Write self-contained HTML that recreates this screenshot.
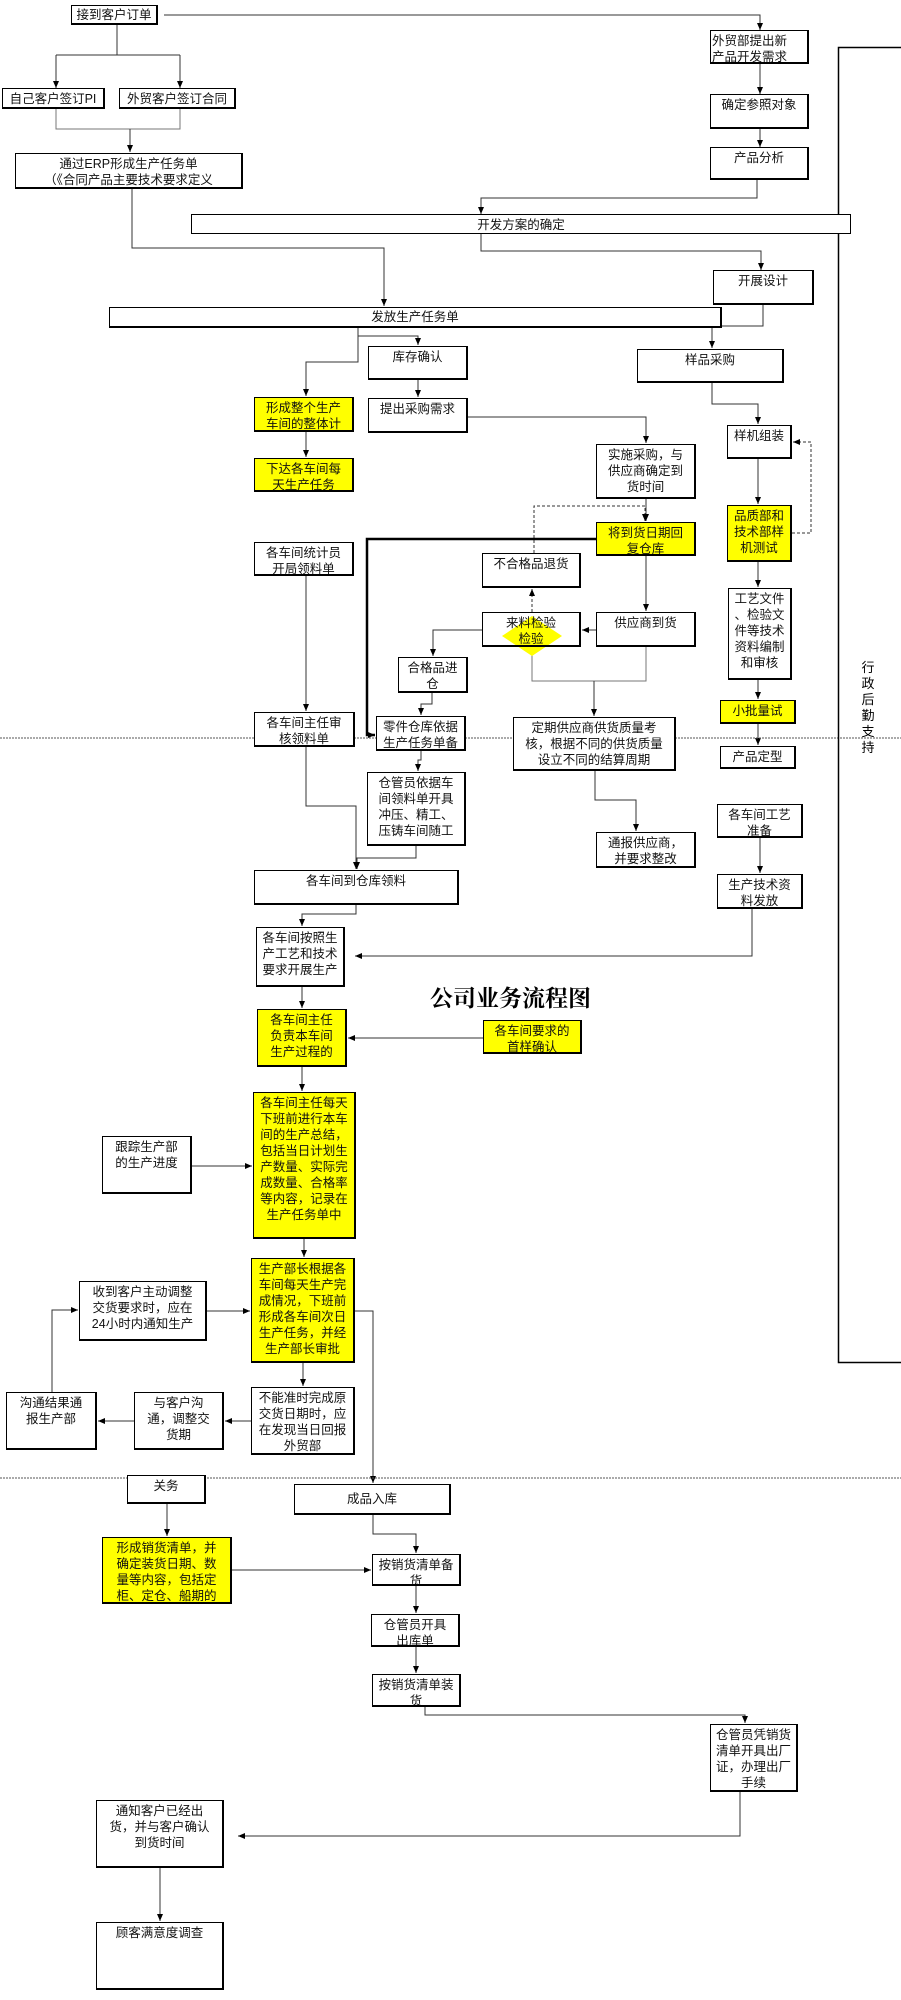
<!DOCTYPE html>
<html><head><meta charset="utf-8"><style>
body{margin:0;width:901px;height:2000px;position:relative;background:#fff;overflow:hidden;font-family:"Liberation Sans","Noto Sans CJK SC",sans-serif;}
.b{position:absolute;box-sizing:border-box;border:1px solid #000;border-right-width:2px;border-bottom-width:2px;background:#fff;font-size:12.5px;line-height:16px;text-align:center;padding:2px 1px 0;overflow:hidden;color:#111;}
.y{background:#ffff00;}
svg{position:absolute;left:0;top:0;}
.t{position:absolute;font-family:"Liberation Serif","Noto Serif CJK SC",serif;font-weight:bold;font-size:23px;}
</style></head><body>
<svg width="901" height="2000">
<defs><marker id="a" markerWidth="8" markerHeight="8" refX="7" refY="4" orient="auto" markerUnits="userSpaceOnUse"><path d="M0,1 L7,4 L0,7z" fill="#000"/></marker></defs>
<g stroke="#333" stroke-width="1" fill="none">
<polyline points="164,15 760,15 760,30" marker-end="url(#a)"/>
<polyline points="117,24 117,55"/>
<polyline points="56,55 180,55"/>
<line x1="56" y1="55" x2="56" y2="88" marker-end="url(#a)"/>
<line x1="180" y1="55" x2="180" y2="88" marker-end="url(#a)"/>
<polyline points="56,108 56,129 180,129 180,108" stroke="#777"/>
<line x1="130" y1="129" x2="130" y2="152" marker-end="url(#a)"/>
<polyline points="132,189 132,248 384,248 384,306" marker-end="url(#a)"/>
<line x1="760" y1="64" x2="760" y2="94" marker-end="url(#a)"/>
<line x1="760" y1="129" x2="760" y2="147" marker-end="url(#a)"/>
<polyline points="757,180 757,198 481,198 481,214" marker-end="url(#a)"/>
<polyline points="481,234 481,251 761,251 761,270" marker-end="url(#a)"/>
<polyline points="763,305 763,326 712,326 712,348" marker-end="url(#a)"/>
<polyline points="358,328 358,336 418,336 418,345" marker-end="url(#a)"/>
<polyline points="358,336 358,362 306,362 306,396" marker-end="url(#a)"/>
<line x1="418" y1="380" x2="418" y2="397" marker-end="url(#a)"/>
<polyline points="468,417 646,417 646,443" marker-end="url(#a)"/>
<polyline points="712,383 712,404 758,404 758,424" marker-end="url(#a)"/>
<line x1="306" y1="432" x2="306" y2="457" marker-end="url(#a)"/>
<line x1="758" y1="459" x2="758" y2="504" marker-end="url(#a)"/>
<polyline points="792,533 811,533 811,442 793,442" stroke-dasharray="3,2" marker-end="url(#a)"/>
<line x1="646" y1="499" x2="646" y2="521" marker-end="url(#a)"/>
<polyline points="534,553 534,506 645,506 645,521" stroke-dasharray="3,2" marker-end="url(#a)"/>
<line x1="532" y1="612" x2="532" y2="589" stroke-dasharray="3,2" marker-end="url(#a)"/>
<polyline points="596,539 367,539 367,735 375,735" stroke-width="2.5" stroke="#000" marker-end="url(#a)"/>
<line x1="306" y1="576" x2="306" y2="711" marker-end="url(#a)"/>
<line x1="646" y1="556" x2="646" y2="611" marker-end="url(#a)"/>
<line x1="596" y1="630" x2="582" y2="630" marker-end="url(#a)"/>
<polyline points="482,630 433,630 433,656" marker-end="url(#a)"/>
<polyline points="432,693 432,704 421,704 421,715" marker-end="url(#a)"/>
<polyline points="532,647 532,681 646,681 646,647" stroke="#777"/>
<line x1="594" y1="681" x2="594" y2="716" marker-end="url(#a)"/>
<polyline points="595,771 595,800 636,800 636,831" marker-end="url(#a)"/>
<line x1="758" y1="562" x2="758" y2="587" marker-end="url(#a)"/>
<line x1="758" y1="680" x2="758" y2="699" marker-end="url(#a)"/>
<line x1="758" y1="724" x2="758" y2="745" marker-end="url(#a)"/>
<polyline points="306,747 306,806 356,806 356,869" marker-end="url(#a)"/>
<polyline points="421,751 421,760 418,760 418,771" marker-end="url(#a)"/>
<polyline points="416,846 416,858 357,858 357,869" marker-end="url(#a)"/>
<line x1="760" y1="838" x2="760" y2="873" marker-end="url(#a)"/>
<polyline points="752,909 752,956 355,956" marker-end="url(#a)"/>
<polyline points="356,905 356,914 302,914 302,926" marker-end="url(#a)"/>
<line x1="302" y1="987" x2="302" y2="1008" marker-end="url(#a)"/>
<line x1="483" y1="1038" x2="348" y2="1038" marker-end="url(#a)"/>
<line x1="302" y1="1067" x2="302" y2="1091" marker-end="url(#a)"/>
<line x1="192" y1="1166" x2="252" y2="1166" marker-end="url(#a)"/>
<line x1="304" y1="1239" x2="304" y2="1257" marker-end="url(#a)"/>
<line x1="207" y1="1311" x2="250" y2="1311" marker-end="url(#a)"/>
<polyline points="355,1311 373,1311 373,1483" marker-end="url(#a)"/>
<line x1="303" y1="1363" x2="303" y2="1386" marker-end="url(#a)"/>
<line x1="251" y1="1421" x2="225" y2="1421" marker-end="url(#a)"/>
<line x1="134" y1="1421" x2="98" y2="1421" marker-end="url(#a)"/>
<polyline points="52,1392 52,1310 78,1310" marker-end="url(#a)"/>
<line x1="167" y1="1504" x2="167" y2="1536" marker-end="url(#a)"/>
<polyline points="373,1515 373,1534 416,1534 416,1553" marker-end="url(#a)"/>
<line x1="232" y1="1570" x2="371" y2="1570" marker-end="url(#a)"/>
<line x1="416" y1="1586" x2="416" y2="1613" marker-end="url(#a)"/>
<line x1="416" y1="1647" x2="416" y2="1673" marker-end="url(#a)"/>
<polyline points="425,1707 425,1715 745,1715 745,1723" marker-end="url(#a)"/>
<polyline points="740,1792 740,1836 238,1836" marker-end="url(#a)"/>
<line x1="160" y1="1868" x2="160" y2="1921" marker-end="url(#a)"/>
</g>
<g stroke="#555" stroke-width="1" stroke-dasharray="2,1">
<line x1="0" y1="738" x2="901" y2="738"/>
<line x1="0" y1="1478" x2="901" y2="1478"/>
</g>
<rect x="838.5" y="47.5" width="70" height="1315" fill="none" stroke="#000" stroke-width="1.5"/>
<polygon points="532,616 562,636 532,656 502,636" fill="#ffff00"/>
</svg>
<div class="b" style="left:71px;top:5px;width:87px;height:20px;padding-top:1px;">接到客户订单</div>
<div class="b" style="left:2px;top:88px;width:103px;height:21px;">自己客户签订PI</div>
<div class="b" style="left:119px;top:88px;width:117px;height:21px;">外贸客户签订合同</div>
<div class="b" style="left:15px;top:153px;width:228px;height:36px;">通过ERP形成生产任务单<br>（《合同产品主要技术要求定义</div>
<div class="b" style="left:710px;top:30px;width:99px;height:34px;text-align:left;">外贸部提出新<br>产品开发需求</div>
<div class="b" style="left:710px;top:94px;width:99px;height:35px;">确定参照对象</div>
<div class="b" style="left:710px;top:147px;width:99px;height:33px;">产品分析</div>
<div class="b" style="left:191px;top:214px;width:660px;height:20px;border-width:1px;">开发方案的确定</div>
<div class="b" style="left:713px;top:270px;width:101px;height:35px;">开展设计</div>
<div class="b" style="left:109px;top:307px;width:613px;height:21px;padding-top:1px;">发放生产任务单</div>
<div class="b" style="left:368px;top:346px;width:100px;height:34px;">库存确认</div>
<div class="b" style="left:637px;top:349px;width:147px;height:34px;">样品采购</div>
<div class="b y" style="left:254px;top:397px;width:100px;height:35px;">形成整个生产<br>车间的整体计</div>
<div class="b" style="left:368px;top:398px;width:100px;height:35px;">提出采购需求</div>
<div class="b" style="left:727px;top:425px;width:65px;height:34px;">样机组装</div>
<div class="b" style="left:596px;top:444px;width:100px;height:55px;">实施采购，与<br>供应商确定到<br>货时间</div>
<div class="b y" style="left:254px;top:458px;width:100px;height:34px;">下达各车间每<br>天生产任务</div>
<div class="b y" style="left:727px;top:505px;width:65px;height:57px;">品质部和<br>技术部样<br>机测试</div>
<div class="b y" style="left:596px;top:522px;width:100px;height:34px;">将到货日期回<br>复仓库</div>
<div class="b" style="left:254px;top:542px;width:100px;height:34px;">各车间统计员<br>开局领料单</div>
<div class="b" style="left:482px;top:553px;width:99px;height:35px;">不合格品退货</div>
<div class="b" style="left:482px;top:612px;width:99px;height:35px;background:transparent;">来料检验<br>检验</div>
<div class="b" style="left:596px;top:612px;width:100px;height:35px;">供应商到货</div>
<div class="b" style="left:398px;top:657px;width:70px;height:36px;">合格品进<br>仓</div>
<div class="b" style="left:728px;top:588px;width:64px;height:92px;">工艺文件<br>、检验文<br>件等技术<br>资料编制<br>和审核</div>
<div class="b y" style="left:720px;top:700px;width:76px;height:24px;">小批量试</div>
<div class="b" style="left:720px;top:746px;width:76px;height:23px;">产品定型</div>
<div class="b" style="left:254px;top:712px;width:101px;height:35px;">各车间主任审<br>核领料单</div>
<div class="b" style="left:376px;top:716px;width:90px;height:35px;">零件仓库依据<br>生产任务单备</div>
<div class="b" style="left:513px;top:717px;width:163px;height:54px;">定期供应商供货质量考<br>核，根据不同的供货质量<br>设立不同的结算周期</div>
<div class="b" style="left:367px;top:772px;width:99px;height:74px;">仓管员依据车<br>间领料单开具<br>冲压、精工、<br>压铸车间随工</div>
<div class="b" style="left:717px;top:804px;width:86px;height:34px;">各车间工艺<br>准备</div>
<div class="b" style="left:596px;top:832px;width:100px;height:36px;">通报供应商，<br>并要求整改</div>
<div class="b" style="left:254px;top:870px;width:205px;height:35px;">各车间到仓库领料</div>
<div class="b" style="left:717px;top:874px;width:86px;height:35px;">生产技术资<br>料发放</div>
<div class="b" style="left:256px;top:927px;width:89px;height:60px;">各车间按照生<br>产工艺和技术<br>要求开展生产</div>
<div class="t" style="left:430px;top:980px;">公司业务流程图</div>
<div class="b y" style="left:257px;top:1009px;width:90px;height:58px;">各车间主任<br>负责本车间<br>生产过程的</div>
<div class="b y" style="left:483px;top:1020px;width:99px;height:34px;">各车间要求的<br>首样确认</div>
<div class="b y" style="left:253px;top:1092px;width:103px;height:147px;">各车间主任每天<br>下班前进行本车<br>间的生产总结，<br>包括当日计划生<br>产数量、实际完<br>成数量、合格率<br>等内容，记录在<br>生产任务单中</div>
<div class="b" style="left:102px;top:1136px;width:90px;height:58px;">跟踪生产部<br>的生产进度</div>
<div class="b y" style="left:251px;top:1258px;width:104px;height:105px;">生产部长根据各<br>车间每天生产完<br>成情况，下班前<br>形成各车间次日<br>生产任务，并经<br>生产部长审批</div>
<div class="b" style="left:79px;top:1281px;width:128px;height:60px;">收到客户主动调整<br>交货要求时，应在<br>24小时内通知生产</div>
<div class="b" style="left:251px;top:1387px;width:104px;height:68px;">不能准时完成原<br>交货日期时，应<br>在发现当日回报<br>外贸部</div>
<div class="b" style="left:134px;top:1392px;width:90px;height:58px;">与客户沟<br>通，调整交<br>货期</div>
<div class="b" style="left:6px;top:1392px;width:91px;height:58px;">沟通结果通<br>报生产部</div>
<div class="b" style="left:127px;top:1475px;width:79px;height:29px;">关务</div>
<div class="b" style="left:294px;top:1484px;width:157px;height:31px;padding-top:6px;">成品入库</div>
<div class="b y" style="left:102px;top:1537px;width:130px;height:67px;">形成销货清单，并<br>确定装货日期、数<br>量等内容，包括定<br>柜、定仓、船期的</div>
<div class="b" style="left:372px;top:1554px;width:89px;height:32px;">按销货清单备<br>货</div>
<div class="b" style="left:371px;top:1614px;width:89px;height:33px;">仓管员开具<br>出库单</div>
<div class="b" style="left:372px;top:1674px;width:89px;height:33px;">按销货清单装<br>货</div>
<div class="b" style="left:710px;top:1724px;width:88px;height:68px;">仓管员凭销货<br>清单开具出厂<br>证，办理出厂<br>手续</div>
<div class="b" style="left:96px;top:1800px;width:128px;height:68px;">通知客户已经出<br>货，并与客户确认<br>到货时间</div>
<div class="b" style="left:96px;top:1922px;width:128px;height:68px;">顾客满意度调查</div>
<div style="position:absolute;left:860px;top:660px;width:16px;font-size:13px;line-height:16px;text-align:center;">行<br>政<br>后<br>勤<br>支<br>持</div>
</body></html>
